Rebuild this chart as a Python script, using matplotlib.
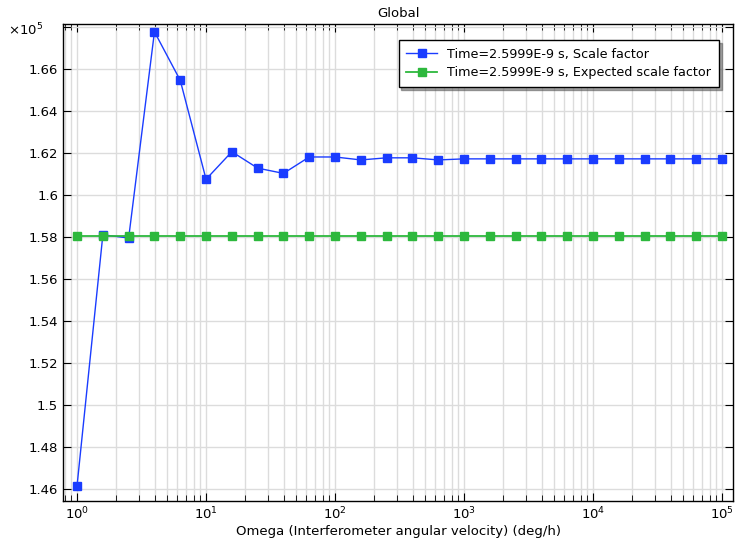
import matplotlib
matplotlib.use('Agg')
import matplotlib.pyplot as plt
from matplotlib.ticker import FixedLocator, LogLocator, NullFormatter
import numpy as np

# omega = 10^(k/5), k = 0..25  (deg/h)
omega = [10 ** (k / 5) for k in range(26)]

# values in units of 1e5
scale_factor = [1.4618, 1.5810, 1.5795, 1.6775, 1.6544, 1.6074, 1.6205, 1.6127,
                1.6102, 1.6180, 1.6180, 1.6166, 1.6176, 1.6176, 1.6166, 1.6171,
                1.6171, 1.6171, 1.6171, 1.6171, 1.6171, 1.6171, 1.6171, 1.6171,
                1.6171, 1.6171]
expected = [1.5803] * 26

y_ticks = [1.46, 1.48, 1.5, 1.52, 1.54, 1.56, 1.58, 1.6, 1.62, 1.64, 1.66, 1.68]
y_labels = ['1.46', '1.48', '1.5', '1.52', '1.54', '1.56', '1.58', '1.6', '1.62', '1.64', '1.66', '']

fig = plt.figure(figsize=(7.35, 5.41), dpi=100)
ax = fig.add_axes([63 / 735, 40 / 541, 670 / 735, 477 / 541])

ax.plot(omega, scale_factor, color='#1a3cff', lw=1, marker='s', ms=5.5,
        label='Time=2.5999E-9 s, Scale factor')
ax.plot(omega, expected, color='#2db83d', lw=1.3, marker='s', ms=5.5,
        label='Time=2.5999E-9 s, Expected scale factor')

ax.set_xscale('log')
ax.set_xlim(10 ** -0.109, 10 ** 5.085)
ax.set_ylim(1.4545, 1.6812)
ax.yaxis.set_major_locator(FixedLocator(y_ticks))
ax.set_yticklabels(y_labels)
ax.xaxis.set_major_locator(LogLocator(base=10, numticks=10))
ax.xaxis.set_minor_locator(LogLocator(base=10, subs=np.arange(2, 10), numticks=20))
ax.xaxis.set_minor_formatter(NullFormatter())

ax.grid(True, which='major', color='#dcdcdc', lw=1)
ax.grid(True, which='minor', axis='x', color='#dcdcdc', lw=1)
ax.set_axisbelow(True)

ax.tick_params(which='both', direction='in', top=True, right=True, labelsize=9.5, colors='black')
ax.tick_params(which='major', length=6)
ax.tick_params(which='minor', length=4)
for s in ax.spines.values():
    s.set_linewidth(1)

ax.set_xlabel('Omega (Interferometer angular velocity) (deg/h)', fontsize=9.5, labelpad=2)
ax.set_title('Global', fontsize=9.5, pad=5)
fig.text(8 / 735, 1 - 30 / 541, r'$\times10^5$', fontsize=9.5, va='center', ha='left')

ax.legend(loc='upper right', bbox_to_anchor=(0.979, 0.9665), fontsize=9.2, fancybox=False,
          shadow=True, edgecolor='black', framealpha=1, borderpad=0.6, borderaxespad=0,
          handlelength=2.4, labelspacing=0.45)

fig.savefig('out.png', dpi=100)
